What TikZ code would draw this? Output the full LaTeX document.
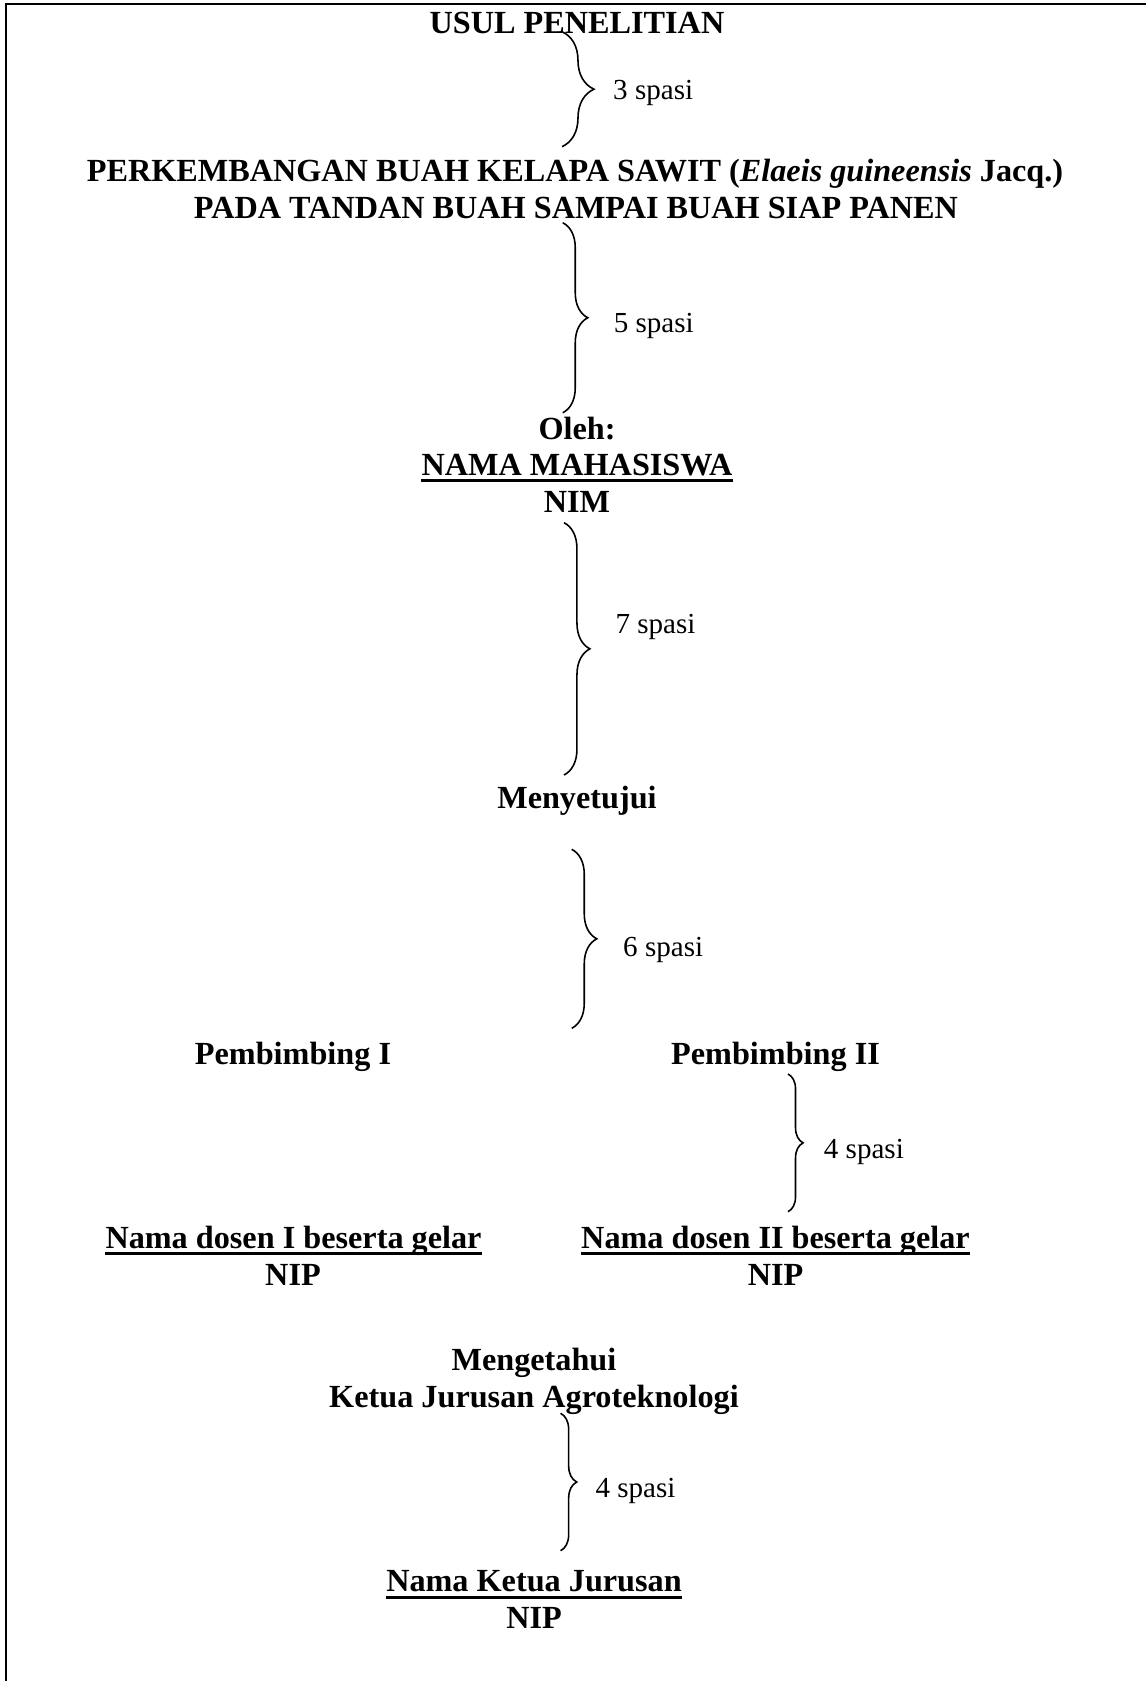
\documentclass[tikz,border=0pt]{standalone}
\usepackage{fontspec}
\setmainfont{Liberation Serif}
\usetikzlibrary{decorations.pathreplacing}
\tikzstyle{heading}=[font=\fontsize{12.2}{14}\selectfont\bfseries, inner sep=0, anchor=base]
\tikzstyle{spasi}=[font=\fontsize{11}{13}\selectfont, inner sep=0, anchor=base west]
\tikzstyle{curly}=[decorate, line width=0.6pt]
\tikzstyle{uline}=[line width=1pt]
\tikzstyle{frame}=[line width=0.8pt]

\begin{document}
\begin{tikzpicture}[x=0.3785pt,y=-0.3785pt]
\useasboundingbox (0,0) rectangle (1145,1681);
\draw[frame] (6,1700) |- (1160,4.3);

% judul
\node[heading] (usul) at (577,33.5) {USUL PENELITIAN};
\node[heading] (judul1) at (575,181.7) {PERKEMBANGAN BUAH KELAPA SAWIT (\textit{Elaeis guineensis} Jacq.)};
\node[heading] (judul2) at (576,218.3) {PADA TANDAN BUAH SAMPAI BUAH SIAP PANEN};

% mahasiswa
\node[heading] (oleh) at (577,439.3) {Oleh:};
\node[heading] (mhs) at (577,475) {NAMA MAHASISWA};
\node[heading] (nim) at (577,512.7) {NIM};
\node[heading] (setuju) at (577,808.3) {Menyetujui};

% pembimbing
\node[heading] (pemb1) at (293,1064) {Pembimbing I};
\node[heading] (pemb2) at (775.5,1064) {Pembimbing II};
\node[heading] (dosen1) at (293.5,1248) {Nama dosen I beserta gelar};
\node[heading] (dosen2) at (775.5,1248) {Nama dosen II beserta gelar};
\node[heading] (nip1) at (293,1285) {NIP};
\node[heading] (nip2) at (775.5,1285) {NIP};

% ketua jurusan
\node[heading] (tahu) at (534,1370.5) {Mengetahui};
\node[heading] (ketua) at (534,1407) {Ketua Jurusan Agroteknologi};
\node[heading] (kajur) at (534,1591.7) {Nama Ketua Jurusan};
\node[heading] (nip3) at (534,1628.3) {NIP};

\foreach \n in {mhs,dosen1,dosen2,kajur}
	\draw[uline] ([yshift=-2.1pt]\n.base west) -- ([yshift=-2.1pt]\n.base east);

% kurung kurawal
\coordinate (b1-t) at (562,31.7);    \coordinate (b1-b) at (562,146.7);
\coordinate (b2-t) at (562.7,222.7); \coordinate (b2-b) at (562.7,412.8);
\coordinate (b3-t) at (564,522.7);   \coordinate (b3-b) at (564,775);
\coordinate (b4-t) at (571.7,849.3); \coordinate (b4-b) at (571.7,1028.3);
\coordinate (b5-t) at (788,1074);    \coordinate (b5-b) at (788,1211.7);
\coordinate (b6-t) at (560.6,1413.3); \coordinate (b6-b) at (560.6,1550.7);
\foreach \n/\amp in {1/12.1pt,2/9.5pt,3/9.8pt,4/9.5pt,5/5.7pt,6/6.1pt}
	\draw[curly,decoration={brace,amplitude=\amp}] (b\n-t) -- (b\n-b);

\node[spasi] (s3) at (612.7,100) {3 spasi};
\node[spasi] (s5) at (613.3,333) {5 spasi};
\node[spasi] (s7) at (615,633) {7 spasi};
\node[spasi] (s6) at (622.7,956) {6 spasi};
\node[spasi] (s4a) at (823.4,1158) {4 spasi};
\node[spasi] (s4b) at (595,1497) {4 spasi};
\end{tikzpicture}
\end{document}
